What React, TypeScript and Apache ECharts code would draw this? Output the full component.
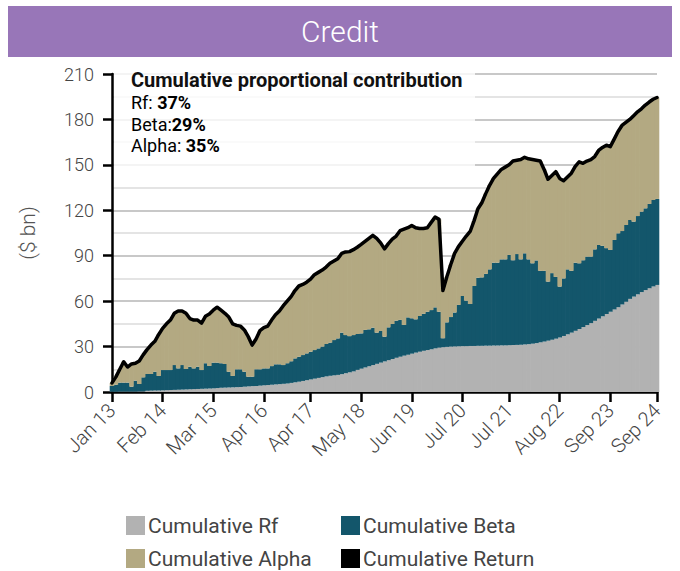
import React, { useEffect, useRef } from "react";
import * as echarts from "echarts";

const monthNames = ["Jan", "Feb", "Mar", "Apr", "May", "Jun", "Jul", "Aug", "Sep", "Oct", "Nov", "Dec"];
const categories: string[] = [];
for (let y = 13; y <= 24; y++) {
  for (let m = 0; m < 12; m++) {
    if (y === 24 && m > 8) break;
    categories.push(`${monthNames[m]} ${y}`);
  }
}

const tickLabels = ["Jan 13", "Feb 14", "Mar 15", "Apr 16", "Apr 17", "May 18", "Jun 19", "Jul 20", "Jul 21", "Aug 22", "Sep 23", "Sep 24"];

const rf = [
  0.2, 0.2, 0.3, 0.3, 0.3, 0.3, 0.3, 0.4, 0.4, 0.8,
  0.9, 1.0, 1.0, 1.1, 1.2, 1.3, 1.4, 1.5, 1.6, 1.7,
  1.8, 1.9, 2.0, 2.1, 2.2, 2.3, 2.4, 2.6, 2.8, 2.9,
  3.0, 3.1, 3.2, 3.3, 3.5, 3.7, 3.9, 4.0, 4.2, 4.4,
  4.6, 4.8, 5.0, 5.2, 5.4, 5.6, 6.0, 6.4, 6.8, 7.3,
  7.8, 8.3, 8.8, 9.3, 9.8, 10.3, 10.7, 11.0, 11.3, 11.8,
  12.4, 13.0, 13.6, 14.6, 15.4, 16.2, 17.0, 17.8, 18.6, 19.4,
  20.2, 21.0, 21.8, 22.6, 23.3, 24.0, 24.6, 25.3, 26.0, 26.6,
  27.2, 27.7, 28.2, 28.8, 29.3, 29.6, 29.8, 30.0, 30.1, 30.2,
  30.3, 30.3, 30.4, 30.4, 30.5, 30.5, 30.6, 30.6, 30.7, 30.7,
  30.8, 30.8, 30.9, 31.0, 31.1, 31.2, 31.4, 31.6, 31.9, 32.3,
  32.8, 33.3, 33.9, 34.5, 35.2, 36.0, 37.0, 38.1, 39.2, 40.4,
  41.6, 42.9, 44.2, 45.5, 47.0, 48.5, 50.0, 51.5, 53.0, 54.5,
  56.0, 57.8, 59.6, 61.5, 63.0, 64.5, 66.0, 67.3, 68.5, 69.7,
  70.7,
];

const beta = [
  3.8, 4.6, 5.9, 5.9, 5.9, 3.2, 7.2, 4.9, 9.3, 11.1,
  11.0, 12.4, 9.6, 13.4, 13.3, 13.2, 16.4, 14.1, 16.2, 13.5,
  14.9, 13.7, 14.7, 12.4, 16.8, 14.9, 17.0, 16.8, 16.2, 15.6,
  10.4, 7.5, 11.8, 11.7, 9.9, 6.4, 6.2, 11.0, 10.8, 11.2,
  11.0, 12.3, 13.3, 13.1, 12.4, 13.4, 14.3, 15.8, 16.5, 17.1,
  17.7, 18.3, 18.9, 19.5, 20.2, 21.4, 21.9, 23.3, 24.1, 27.4,
  25.2, 23.9, 24.0, 23.7, 23.3, 24.8, 24.4, 24.7, 20.6, 20.9,
  16.3, 21.7, 23.1, 24.5, 24.3, 20.3, 24.7, 23.4, 22.0, 23.6,
  24.4, 25.3, 25.9, 27.1, 23.7, 5.9, 16.2, 19.5, 22.4, 27.3,
  33.1, 30.0, 27.7, 39.6, 45.0, 45.2, 47.4, 50.4, 54.7, 54.7,
  56.8, 56.8, 59.6, 56.0, 60.0, 56.4, 60.2, 56.0, 53.1, 54.6,
  47.2, 46.7, 39.0, 44.0, 40.8, 33.6, 38.0, 42.9, 40.8, 45.0,
  43.4, 44.1, 45.2, 43.9, 47.2, 48.6, 46.5, 43.5, 40.8, 45.9,
  48.8, 48.5, 50.7, 52.1, 49.5, 51.7, 53.1, 54.0, 55.7, 57.1,
  56.8,
];

const alpha = [
  2.0, 5.2, 8.8, 13.8, 10.3, 15.0, 11.5, 15.2, 14.8, 16.1,
  19.1, 20.1, 27.4, 27.5, 30.5, 33.0, 34.2, 37.9, 35.7, 36.8,
  31.8, 31.9, 30.8, 31.0, 31.0, 34.3, 34.6, 36.6, 35.0, 33.5,
  36.1, 34.4, 29.0, 28.5, 27.6, 26.4, 20.9, 20.0, 25.5, 26.9,
  27.9, 30.4, 32.7, 35.2, 39.2, 41.0, 42.7, 44.8, 46.7, 46.6,
  47.0, 47.9, 49.8, 50.2, 50.5, 50.8, 52.4, 52.2, 52.6, 52.3,
  54.9, 55.8, 56.4, 57.3, 58.8, 58.5, 60.1, 61.0, 62.3, 58.2,
  58.0, 55.3, 56.1, 55.9, 58.9, 63.2, 59.2, 61.3, 60.5, 57.8,
  56.4, 55.5, 57.9, 59.6, 61.0, 31.5, 30.0, 34.5, 39.0, 38.5,
  36.1, 42.7, 47.9, 43.0, 45.5, 49.3, 53.0, 55.5, 55.6, 58.6,
  59.4, 60.9, 59.5, 65.5, 61.9, 65.9, 63.4, 66.4, 68.5, 66.1,
  72.5, 67.0, 67.6, 64.5, 69.5, 71.4, 64.5, 61.0, 64.5, 63.6,
  67.0, 64.0, 63.1, 64.1, 61.3, 62.4, 65.0, 68.0, 68.2, 66.6,
  67.2, 69.7, 67.7, 66.4, 70.0, 68.8, 67.9, 68.2, 67.3, 66.5,
  67.0,
];

const totalReturn = [
  6.0, 10.0, 15.0, 20.0, 16.5, 18.5, 19.0, 20.5, 24.5, 28.0,
  31.0, 33.5, 38.0, 42.0, 45.0, 47.5, 52.0, 53.5, 53.5, 52.0,
  48.5, 47.5, 47.5, 45.5, 50.0, 51.5, 54.0, 56.0, 54.0, 52.0,
  49.5, 45.0, 44.0, 43.5, 41.0, 36.5, 31.0, 35.0, 40.5, 42.5,
  43.5, 47.5, 51.0, 53.5, 57.0, 60.0, 63.0, 67.0, 70.0, 71.0,
  72.5, 74.5, 77.5, 79.0, 80.5, 82.5, 85.0, 86.5, 88.0, 91.5,
  92.5, 92.7, 94.0, 95.6, 97.5, 99.5, 101.5, 103.5, 101.5, 98.5,
  94.5, 98.0, 101.0, 103.0, 106.5, 107.5, 108.5, 110.0, 108.5, 108.0,
  108.0, 108.5, 112.0, 115.5, 114.0, 67.0, 76.0, 84.0, 91.5, 96.0,
  99.5, 103.0, 106.0, 113.0, 121.0, 125.0, 131.0, 136.5, 141.0, 144.0,
  147.0, 148.5, 150.0, 152.5, 153.0, 153.5, 155.0, 154.0, 153.5, 153.0,
  152.5, 147.0, 140.5, 143.0, 145.5, 141.0, 139.5, 142.0, 144.5, 149.0,
  152.0, 151.0, 152.5, 153.5, 155.5, 159.5, 161.5, 163.0, 162.0, 167.0,
  172.0, 176.0, 178.0, 180.0, 182.5, 185.0, 187.0, 189.5, 191.5, 193.3,
  194.5,
];

const contributions = [
  { name: "Rf", sep: ": ", value: "37%" },
  { name: "Beta", sep: ":", value: "29%" },
  { name: "Alpha", sep: ": ", value: "35%" },
];

const FONT = "Roboto, 'Open Sans', sans-serif";
const COLORS = { rf: "#b2b2b2", beta: "#13566b", alpha: "#b3a982", ret: "#000000" };

export default function App() {
  const ref = useRef<HTMLDivElement>(null);

  useEffect(() => {
    if (!ref.current) return;
    const chart = echarts.init(ref.current, null, { renderer: "svg" });
    const isTick = (_i: number, v: string) => tickLabels.includes(v);
    const contribY = [102.5, 124, 145.5];

    const legendCommon = {
      orient: "vertical",
      top: 515,
      padding: 0,
      itemWidth: 19,
      itemHeight: 19,
      itemGap: 12,
      icon: "rect",
      selectedMode: false,
      textStyle: { fontFamily: FONT, fontSize: 21, color: "#444", lineHeight: 20, padding: [0, 0, 0, -2] },
    };

    const barSeries = (name: string, data: number[], c: string) => ({
      name,
      type: "bar",
      stack: "total",
      data,
      barWidth: 4.6,
      clip: true,
      itemStyle: { color: c },
    });

    const option: any = {
      animation: false,
      textStyle: { fontFamily: FONT },
      grid: { left: 112, right: 23, top: 74, bottom: 179, containLabel: false },
      legend: [
        { ...legendCommon, left: 126, data: ["Cumulative Rf", "Cumulative Alpha"] },
        { ...legendCommon, left: 341, data: ["Cumulative Beta", "Cumulative Return"] },
      ],
      xAxis: {
        type: "category",
        data: categories,
        boundaryGap: false,
        axisLine: { lineStyle: { color: "#000", width: 2.5 } },
        axisTick: { show: true, interval: isTick, length: 10, lineStyle: { color: "#000", width: 2.5 } },
        axisLabel: {
          interval: isTick,
          rotate: 45,
          margin: 15,
          color: "#444",
          fontSize: 20,
          fontFamily: FONT,
          fontWeight: 300,
        },
        splitLine: { show: false },
      },
      yAxis: {
        type: "value",
        min: 0,
        max: 210,
        interval: 30,
        name: "($ bn)",
        nameLocation: "middle",
        nameGap: 74,
        nameRotate: 90,
        nameTextStyle: { color: "#555", fontSize: 21, fontFamily: FONT, fontWeight: 300 },
        axisLine: { show: true, lineStyle: { color: "#000", width: 2.5 } },
        axisTick: { show: true, length: 9, lineStyle: { color: "#000", width: 2.5 } },
        axisLabel: { color: "#444", fontSize: 18, margin: 18, fontFamily: FONT, fontWeight: 300 },
        splitLine: { show: true, lineStyle: { color: "#c8c8c8", width: 2 } },
        minorTick: { show: false, splitNumber: 2 },
        minorSplitLine: { show: true, lineStyle: { color: "#e4e4e4", width: 2 } },
      },
      series: [
        barSeries("Cumulative Rf", rf, COLORS.rf),
        barSeries("Cumulative Beta", beta, COLORS.beta),
        barSeries("Cumulative Alpha", alpha, COLORS.alpha),
        {
          name: "Cumulative Return",
          type: "line",
          data: totalReturn,
          symbol: "none",
          z: 5,
          itemStyle: { color: COLORS.ret },
          lineStyle: { color: COLORS.ret, width: 3.5, join: "round", cap: "round" },
        },
      ],
      graphic: [
        {
          type: "rect",
          left: 8,
          top: 6,
          shape: { width: 664, height: 51 },
          style: { fill: "#9876b8" },
          silent: true,
        },
        {
          type: "text",
          x: 340,
          y: 31,
          style: {
            text: "Credit",
            fill: "#ffffff",
            font: `300 30px ${FONT}`,
            align: "center",
            verticalAlign: "middle",
          },
          silent: true,
        },
        {
          type: "rect",
          shape: { x: 114, y: 64, width: 361, height: 108 },
          style: { fill: "rgba(255,255,255,0.8)" },
          silent: true,
          z: 1,
        },
        {
          type: "text",
          x: 131,
          y: 80,
          z: 2,
          style: {
            text: "Cumulative proportional contribution",
            fill: "#111",
            font: `bold 20px ${FONT}`,
            verticalAlign: "middle",
          },
          silent: true,
        },
        ...contributions.map((c, i) => ({
          type: "text",
          x: 131,
          y: contribY[i],
          z: 2,
          style: {
            text: `{a|${c.name}${c.sep}}{b|${c.value}}`,
            verticalAlign: "middle",
            rich: {
              a: { fontFamily: FONT, fontSize: 18, color: "#222" },
              b: { fontFamily: FONT, fontSize: 18, fontWeight: "bold", color: "#111" },
            },
          },
          silent: true,
        })),
      ],
    };

    chart.setOption(option);
    return () => chart.dispose();
  }, []);

  return (
    <div
      ref={ref}
      style={{ position: "fixed", left: 0, top: 0, width: 680, height: 571, background: "#fff" }}
    />
  );
}
